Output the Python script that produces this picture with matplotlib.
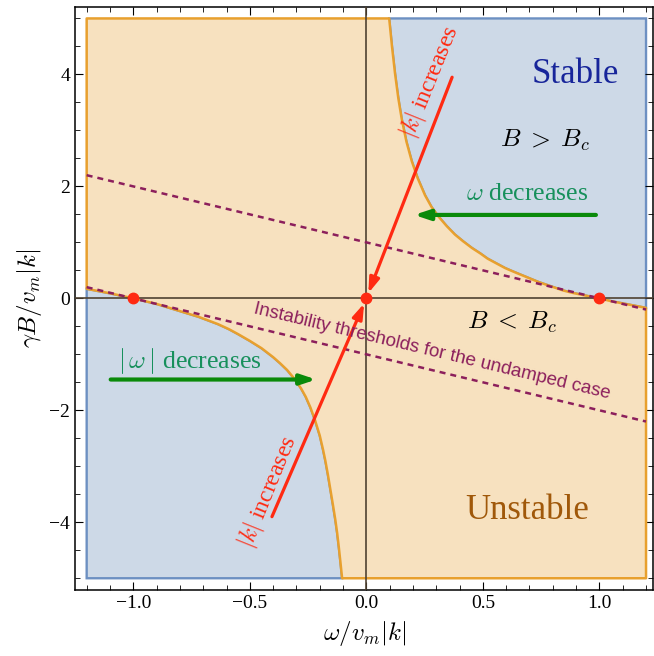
import numpy as np
import matplotlib
matplotlib.use('Agg')
import matplotlib.pyplot as plt
from matplotlib.patches import Polygon
from matplotlib.ticker import MultipleLocator

plt.rcParams['font.family'] = ['Liberation Serif', 'DejaVu Serif']
plt.rcParams['mathtext.fontset'] = 'cm'

# stability boundary (omega/v_m|k|, gamma B/v_m|k|)
upper_w = [0.098, 0.11, 0.123, 0.137, 0.152, 0.172, 0.195, 0.22, 0.252, 0.28,
           0.31, 0.345, 0.38, 0.415, 0.453, 0.49, 0.52, 0.56, 0.596, 0.635,
           0.67, 0.705, 0.74, 0.775, 0.81, 0.845, 0.883, 0.94, 1.0, 1.05,
           1.1, 1.15, 1.2]
upper_y = [5.0, 4.5, 4.02, 3.58, 3.2, 2.8, 2.45, 2.15, 1.84, 1.63,
           1.46, 1.29, 1.14, 1.02, 0.90, 0.80, 0.71, 0.62, 0.54, 0.47,
           0.41, 0.35, 0.29, 0.24, 0.19, 0.14, 0.10, 0.05, 0.0, -0.05,
           -0.09, -0.13, -0.17]
lower_w = [-1.2, -1.1, -1.0, -0.9, -0.81, -0.72, -0.637, -0.59, -0.55, -0.5,
           -0.45, -0.4, -0.37, -0.34, -0.31, -0.28, -0.26, -0.24, -0.22,
           -0.2, -0.186, -0.176, -0.165, -0.155, -0.143, -0.133, -0.125,
           -0.118, -0.111, -0.104]
lower_y = [0.17, 0.09, 0.0, -0.1, -0.215, -0.33, -0.46, -0.55, -0.64, -0.76,
           -0.89, -1.05, -1.16, -1.28, -1.43, -1.61, -1.76, -1.95, -2.18,
           -2.45, -2.7, -2.9, -3.15, -3.4, -3.7, -3.96, -4.2,
           -4.45, -4.72, -5.0]

# undamped thresholds (dashed)
thr_w = [-1.2, 1.2]
thr_hi = [2.2, -0.2]
thr_lo = [0.2, -2.2]

# marked points on the omega axis
dot_w = [-1.0, 0.0, 1.0]
dot_y = [0.0, 0.0, 0.0]

orange_fill = '#f7e1bf'
orange_edge = '#e8a02e'
blue_fill = '#cdd9e7'
blue_edge = '#6d90c2'
red = '#ff2a12'
green = '#0a8a0a'
green_txt = '#17905c'
maroon = '#8c1f5c'

fig = plt.figure(figsize=(6.54, 6.56), dpi=100)
ax = fig.add_axes([0.1147, 0.1006, 0.8838, 0.8892])

xmin, xmax, ymin, ymax = -1.2, 1.2, -5.0, 5.0

# blue (stable) regions
top_right = list(zip(upper_w, upper_y)) + [(xmax, ymax)]
bot_left = list(zip(lower_w, lower_y)) + [(xmin, ymin)]
for pts in (top_right, bot_left):
    ax.add_patch(Polygon(pts, closed=True, facecolor=blue_fill,
                         edgecolor=blue_edge, lw=1.7, zorder=1))

# orange (unstable) region
orange_pts = [(xmin, ymax)] + list(zip(upper_w, upper_y)) + [(xmax, ymin)] \
    + list(zip(lower_w[::-1], lower_y[::-1]))
ax.add_patch(Polygon(orange_pts, closed=True, facecolor=orange_fill,
                     edgecolor=orange_edge, lw=1.8, joinstyle='round', zorder=2))

# axes lines
ax.axhline(0, color='#4f4232', lw=1.2, zorder=3)
ax.axvline(0, color='#4f4232', lw=1.2, zorder=3)

# dashed thresholds
for ys in (thr_hi, thr_lo):
    ax.plot(thr_w, ys, color=maroon, lw=1.8, ls=(0, (2.4, 2.0)), zorder=4)

# red arrows for |k|
for start in ((0.368, 3.95), (-0.405, -3.9)):
    ax.annotate('', xy=(0, 0), xytext=start,
                arrowprops=dict(arrowstyle='-|>,head_length=0.9,head_width=0.3',
                                color=red, lw=2.3, shrinkA=0, shrinkB=4),
                zorder=5)

# green arrows for omega
ax.annotate('', xy=(0.205, 1.49), xytext=(0.985, 1.49),
            arrowprops=dict(arrowstyle='-|>,head_length=0.9,head_width=0.3',
                            color=green, lw=3, shrinkA=0, shrinkB=0), zorder=5)
ax.annotate('', xy=(-0.215, -1.45), xytext=(-1.097, -1.45),
            arrowprops=dict(arrowstyle='-|>,head_length=0.9,head_width=0.3',
                            color=green, lw=3, shrinkA=0, shrinkB=0), zorder=5)

ax.plot(dot_w, dot_y, 'o', color=red, ms=7.5, zorder=6)

# texts
ax.text(0.897, 4.0, 'Stable', color='#17259a', fontsize=25,
        ha='center', va='center', zorder=7)
ax.text(0.69, -3.79, 'Unstable', color='#a0580a', fontsize=25,
        ha='center', va='center', zorder=7)
ax.text(0.765, 2.82, r'$B\;>\;B_c$', fontsize=18.5, ha='center', va='center', zorder=7)
ax.text(0.625, -0.43, r'$B\;<\;B_c$', fontsize=18.5, ha='center', va='center', zorder=7)
ax.text(0.69, 1.86, r'$\omega$ decreases', color=green_txt, fontsize=18.5,
        ha='center', va='center', zorder=7)
ax.text(-0.755, -1.12, r'$|\,\omega\,|$ decreases', color=green_txt, fontsize=18.5,
        ha='center', va='center', zorder=7)
ax.text(0.274, 3.86, r'$|k|$ increases', color=red, fontsize=17, rotation=68,
        ha='center', va='center', zorder=7)
ax.text(-0.425, -3.45, r'$|k|$ increases', color=red, fontsize=17, rotation=68,
        ha='center', va='center', zorder=7)
ax.text(0.28, -0.95, 'Instability thresholds for the undamped case', color=maroon,
        fontsize=13.5, family=['Liberation Sans', 'DejaVu Sans'],
        rotation=-13.5, ha='center', va='center', zorder=7)

ax.set_xlim(-1.25, 1.23)
ax.set_ylim(-5.21, 5.21)
ax.xaxis.set_major_locator(MultipleLocator(0.5))
ax.xaxis.set_minor_locator(MultipleLocator(0.1))
ax.yaxis.set_major_locator(MultipleLocator(2))
ax.yaxis.set_minor_locator(MultipleLocator(0.5))
ax.xaxis.set_major_formatter(plt.FuncFormatter(lambda v, p: f'{v:.1f}'.replace('-', '\u2212')))
ax.tick_params(which='both', direction='in', top=True, right=True, labelsize=14)
ax.tick_params(which='major', length=6, width=0.8)
ax.tick_params(which='minor', length=3.5, width=0.6)
for s in ax.spines.values():
    s.set_linewidth(1.1)

ax.set_xlabel(r'$\omega/v_m|k|$', fontsize=18, labelpad=5)
ax.set_ylabel(r'$\gamma B/v_m|k|$', fontsize=18, labelpad=4)

fig.savefig('out.png', dpi=100)
